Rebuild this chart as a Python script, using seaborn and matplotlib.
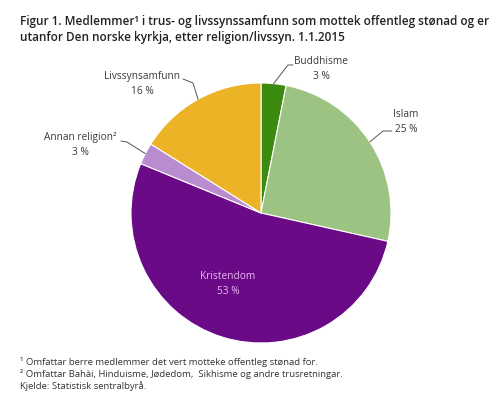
import numpy as np
import matplotlib
matplotlib.use("Agg")
import matplotlib.pyplot as plt
import seaborn as sns

sns.set_theme(style="white")
plt.rcParams["font.family"] = ["Open Sans", "DejaVu Sans"]

# data (share of members, percent)
categories = ["Buddhisme", "Islam", "Kristendom", "Annan religion\u00b2", "Livssynsamfunn"]
shares = [3.1, 25.4, 52.7, 2.7, 16.1]
shown_pct = ["3 %", "25 %", "53 %", "3 %", "16 %"]
colors = ["#3d8a10", "#9cc381", "#6a0a86", "#b98bcf", "#ecb326"]

title = ("Figur 1. Medlemmer\u00b9 i trus- og livssynssamfunn som mottek offentleg st\u00f8nad og er\n"
         "utanfor Den norske kyrkja, etter religion/livssyn. 1.1.2015")
notes = ["\u00b9 Omfattar berre medlemmer det vert motteke offentleg st\u00f8nad for.",
         "\u00b2 Omfattar Bah\u00e0i, Hinduisme, J\u00f8dedom,  Sikhisme og andre trusretningar.",
         "Kjelde: Statistisk sentralbyr\u00e5."]

W, H = 500, 394
fig = plt.figure(figsize=(W / 100, H / 100), dpi=100)
cx, cy, r = 261, 213, 130
ax = fig.add_axes([(cx - r) / W, (H - cy - r) / H, 2 * r / W, 2 * r / H])

wedges, _ = ax.pie(shares, colors=colors, startangle=90, counterclock=False,
                   radius=1, wedgeprops=dict(edgecolor="white", linewidth=0.8))
ax.set_xlim(-1, 1)
ax.set_ylim(-1, 1)
ax.axis("off")

def px(x, y):
    # pixel -> data coords of the pie axes
    return (x - cx) / r, (cy - y) / r

# outside labels: elbow and text anchor in pixels
outside = {
    0: dict(elbow=(288, 65), end=(293, 65), text=(321, 69)),
    1: dict(elbow=(383, 131), end=(392, 131), text=(406, 122)),
    3: dict(elbow=(127, 142), end=(121, 141), text=(80, 145)),
    4: dict(elbow=(193, 83), end=(183, 79), text=(142, 84)),
}
for i, w in enumerate(wedges):
    mid = np.deg2rad((w.theta1 + w.theta2) / 2)
    ex, ey = np.cos(mid), np.sin(mid)
    if i in outside:
        o = outside[i]
        bx, by = px(*o["elbow"])
        qx, qy = px(*o["end"])
        ax.plot([ex, bx, qx], [ey, by, qy], color="#555555", lw=0.7, clip_on=False)
        tx, ty = px(*o["text"])
        ax.text(tx, ty, f"{categories[i]}\n{shown_pct[i]}", ha="center", va="center",
                fontsize=7.3, color="#3a3a3a", linespacing=1.6)
    else:
        tx, ty = px(228, 284)
        ax.text(tx, ty, f"{categories[i]}\n{shown_pct[i]}", ha="center", va="center",
                fontsize=7.3, color="#ebb8f2", linespacing=1.6)

fig.text(20 / W, 1 - 15 / H, title, ha="left", va="top", fontsize=8.45,
         fontweight="semibold", color="#222222", linespacing=1.25)
for k, line in enumerate(notes):
    fig.text(20 / W, 1 - (362 + 12 * k) / H, line, ha="left", va="center",
             fontsize=6.8, color="#333333")

fig.savefig("out.png", dpi=100, facecolor="white")
